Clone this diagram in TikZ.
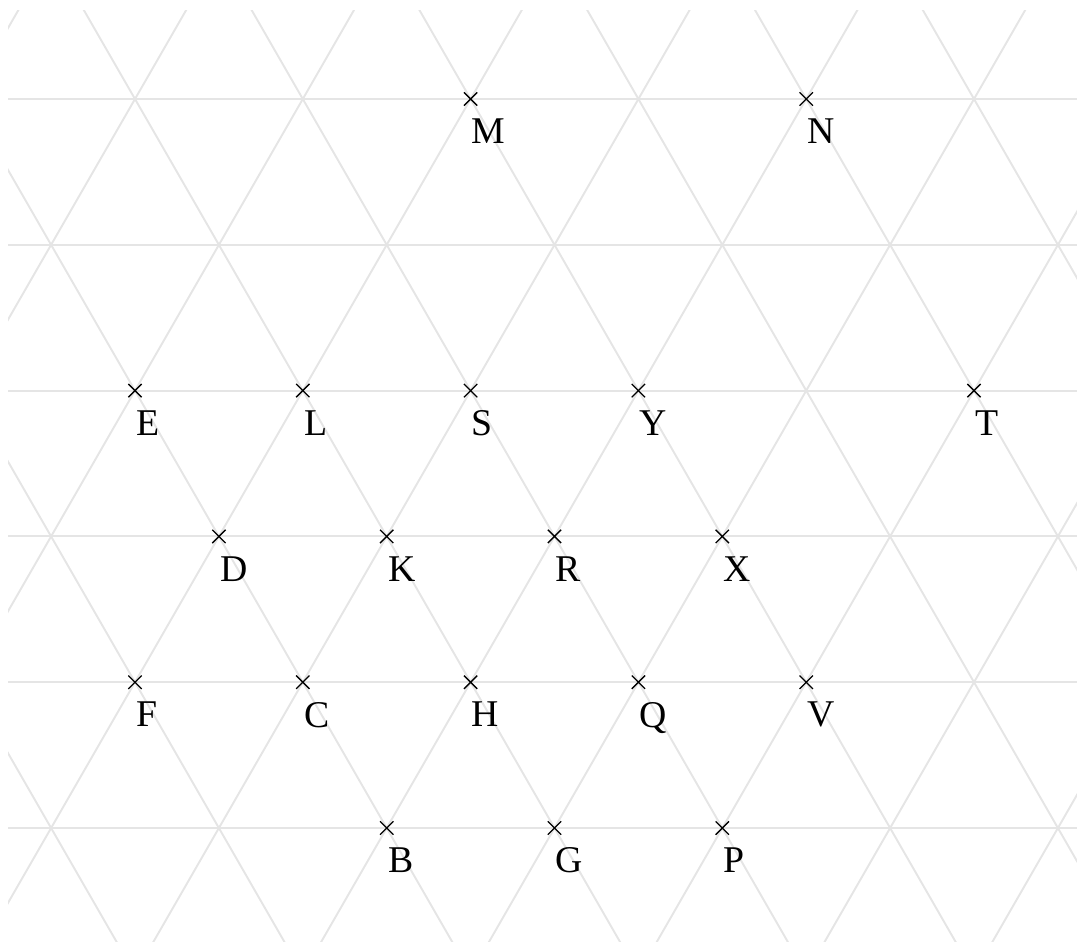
\documentclass[tikz,border=0pt]{standalone}
\usepackage{fontspec}
\setmainfont{Liberation Serif}
\usetikzlibrary{calc,shapes.misc}
\definecolor{GridGray}{RGB}{229,229,229}

\begin{document}
\begin{tikzpicture}[x=0.02cm, y=-0.02cm,
    grid/.style={GridGray, line width=1.1pt},
    pt/.style={cross out, draw, line width=0.75pt, minimum size=0.24cm, inner sep=0pt},
    lbl/.style={anchor=north west, inner sep=0pt, font=\fontsize{21.5}{24}\selectfont}]
    \pgfmathsetmacro{\a}{167.8}
    \pgfmathsetmacro{\h}{145.8}
    
    \useasboundingbox (0,0) rectangle (1077,941);
    
    % triangular grid
    \begin{scope}
        \clip (8,10) rectangle (1077,941);
        \foreach \j in {0,...,5}
            \draw[grid] (0,{99+\j*\h}) -- (1077,{99+\j*\h});
        \foreach \k in {-5,...,9} {
            \draw[grid] ({135+\k*\a-\a},{99-2*\h}) -- ({135+\k*\a+4*\a},{99+8*\h});
            \draw[grid] ({135+\k*\a+\a},{99-2*\h}) -- ({135+\k*\a-4*\a},{99+8*\h});
        }
    \end{scope}
    
    % marked points
    \foreach \n/\c/\j in {M/4/0, N/8/0, E/0/2, L/2/2, S/4/2, Y/6/2, T/10/2,
        D/1/3, K/3/3, R/5/3, X/7/3, F/0/4, C/2/4, H/4/4, Q/6/4, V/8/4,
        B/3/5, G/5/5, P/7/5} {
        \node[pt] (\n) at ({135+\c*\a/2},{99+\j*\h}) {};
        \node[lbl] (lbl\n) at ($(\n.center)+(1,19.5)$) {\n};
    }
\end{tikzpicture}
\end{document}
